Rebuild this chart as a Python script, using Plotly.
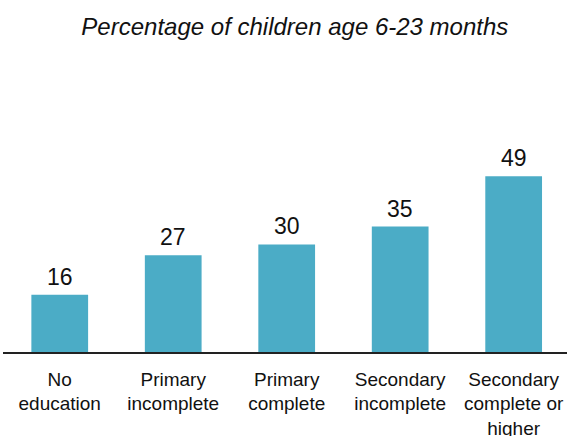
import plotly.graph_objects as go

categories = ["No<br>education", "Primary<br>incomplete", "Primary<br>complete",
              "Secondary<br>incomplete", "Secondary<br>complete or<br>higher"]
values = [16, 27, 30, 35, 49]
title_text = "Percentage of children age 6-23 months"

BAR_COLOR = "#4BACC6"
FONT = "Liberation Sans, Arial, sans-serif"

fig = go.Figure(go.Bar(
    x=categories, y=values,
    marker=dict(color=BAR_COLOR, line=dict(width=0)),
    hoverinfo="skip",
))

for c, v in zip(categories, values):
    fig.add_annotation(x=c, y=v, text=str(v), showarrow=False,
                       yanchor="bottom", yshift=3,
                       font=dict(family=FONT, size=23, color="#111111"))

fig.update_layout(
    width=567, height=436,
    margin=dict(l=3, r=0, t=101, b=84, autoexpand=False),
    paper_bgcolor="white", plot_bgcolor="white",
    bargap=0.5,
    showlegend=False,
    title=dict(text="<i>" + title_text + "</i>", x=0.52, xanchor="center",
               y=1 - 27 / 436, yanchor="middle",
               font=dict(family=FONT, size=24, color="#111111")),
    xaxis=dict(showline=True, linecolor="#222222", linewidth=1.5,
               showgrid=False, ticks="", range=[-0.5, 4.47], automargin=False,
               tickfont=dict(family=FONT, size=19, color="#111111"),
               ticklabelstandoff=9),
    yaxis=dict(visible=False, range=[0, 70], showgrid=False, zeroline=False,
               automargin=False),
)

fig.write_html("out.html", config={"displayModeBar": False},
               post_script="document.body.style.margin='0';document.body.style.overflow='hidden';")
